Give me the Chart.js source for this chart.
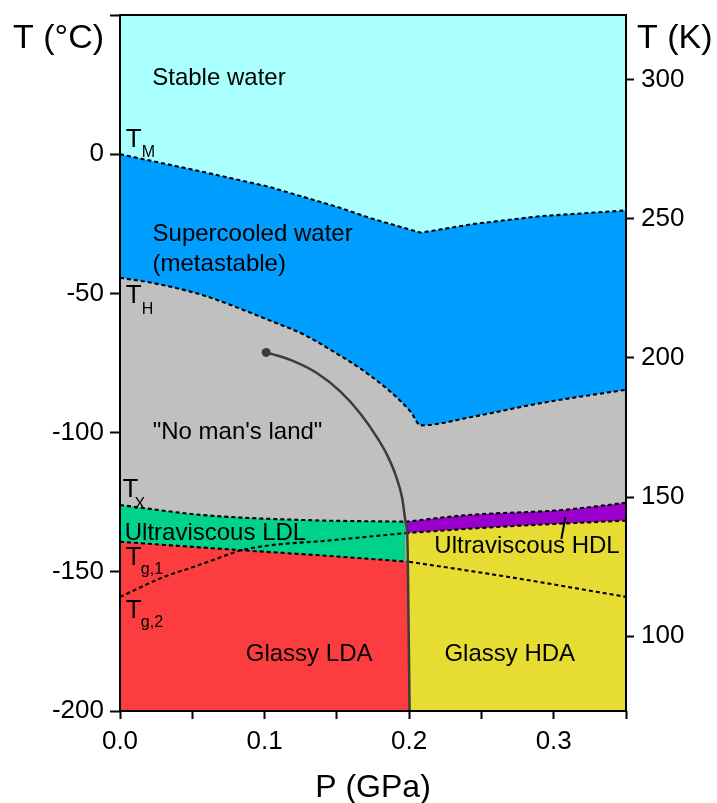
<!DOCTYPE html>
<html>
<head>
<meta charset="utf-8">
<script src="https://cdn.jsdelivr.net/npm/chart.js@4.4.1/dist/chart.umd.min.js"></script>
<style>
  html, body { margin: 0; padding: 0; background: #fff; }
</style>
</head>
<body>
<canvas id="phase" width="717" height="803"></canvas>
<script>
// phase boundaries: P in GPa, T in degC
var tmP = [0, 0.057, 0.103, 0.150, 0.174, 0.208, 0.244, 0.290, 0.350];
var tmT = [0, -6.3, -11.7, -18.9, -23.1, -28.2, -25.1, -22.3, -20.2];

var thP = [0, 0.024, 0.057, 0.103, 0.128, 0.146, 0.166, 0.187, 0.201, 0.208, 0.244, 0.290, 0.350];
var thT = [-44.4, -46.4, -50.6, -59.6, -65, -70.4, -76.9, -85.3, -92.5, -97.4, -94.3, -89.5, -84.6];

var txLowP = [0, 0.057, 0.127, 0.1975];
var txLowT = [-126, -129.6, -131.4, -132];
var txHighP = [0.1975, 0.241, 0.306, 0.350];
var txHighT = [-132, -129.6, -127.8, -125.2];

var tg1LowP = [0, 0.080, 0.150, 0.200];
var tg1LowT = [-139.2, -142.1, -144.5, -146.4];
var tg1HighP = [0.200, 0.267, 0.350];
var tg1HighT = [-146.4, -151.7, -159];

var tg2LowP = [0, 0.031, 0.050, 0.068, 0.085, 0.150, 0.1975];
var tg2LowT = [-159, -151.7, -148.4, -145.1, -142.1, -138.5, -136.1];
var tg2HighP = [0.1975, 0.264, 0.350];
var tg2HighT = [-136.1, -133.8, -131.6];

// LL line from the critical point down to P = 0.2 GPa
var llP = [0.1011, 0.1053, 0.1179, 0.1364, 0.1525, 0.1663, 0.1779, 0.1848, 0.1906, 0.1952, 0.1975, 0.1987, 0.1991, 0.2003];
var llT = [-71.2, -71.8, -73.9, -78.7, -85.3, -93.2, -101.8, -108.1, -115.2, -123.6, -132, -136.8, -146.9, -200];

var leaderP = [0.3053, 0.3081];
var leaderT = [-138.2, -130.3];

var xTicks = [0, 0.05, 0.1, 0.15, 0.2, 0.25, 0.3, 0.35];
var xTickLabels = ['0.0', '', '0.1', '', '0.2', '', '0.3', ''];
var cTicks = [-200, -150, -100, -50, 0, 50];
var cTickLabels = ['-200', '-150', '-100', '-50', '0', ''];
var kTicks = [100, 150, 200, 250, 300];

var regionText = [
  ['Stable water', 0.0223, 25.0],
  ['Supercooled water', 0.0225, -31.2],
  ['(metastable)', 0.0225, -41.9],
  ['"No man\'s land"', 0.0226, -102.3],
  ['Ultraviscous LDL', 0.0033, -138.5],
  ['Ultraviscous HDL', 0.2174, -143.3],
  ['Glassy LDA', 0.087, -182.2],
  ['Glassy HDA', 0.2244, -182.2]
];
// [main, subscript, P, T, sub dx, sub dy]
var tempText = [
  ['T', 'M', 0.004, 2.6, 16, 10],
  ['T', 'H', 0.004, -53.6, 16, 11],
  ['T', 'X', 0.0017, -123.3, 12, 12],
  ['T', 'g,1', 0.004, -147.5, 15, 9],
  ['T', 'g,2', 0.004, -166.7, 15, 9]
];

var FONT = '"Liberation Sans", Arial, sans-serif';
Chart.defaults.font.family = FONT;
Chart.defaults.color = '#000';

function pts(ps, ts) {
  return ps.map(function (p, i) { return { x: p, y: ts[i] }; });
}

function boundary(ps, ts, fillColor, order, smooth) {
  return {
    data: pts(ps, ts),
    showLine: true,
    pointRadius: 0,
    borderColor: '#000',
    borderWidth: 2.1,
    borderDash: [4, 3],
    cubicInterpolationMode: smooth ? 'monotone' : 'default',
    tension: smooth ? 0.4 : 0,
    backgroundColor: fillColor || 'transparent',
    fill: fillColor ? 'start' : false,
    order: order
  };
}

var bgPlugin = {
  id: 'areaBg',
  beforeDraw: function (chart) {
    var a = chart.chartArea, ctx = chart.ctx;
    ctx.save();
    ctx.fillStyle = '#AAFFFF';
    ctx.fillRect(a.left, a.top, a.right - a.left, a.bottom - a.top);
    ctx.restore();
  }
};

var framePlugin = {
  id: 'frame',
  afterDatasetsDraw: function (chart) {
    var a = chart.chartArea, ctx = chart.ctx;
    ctx.save();
    ctx.strokeStyle = '#000';
    ctx.lineWidth = 2;
    ctx.strokeRect(a.left, a.top, a.right - a.left, a.bottom - a.top);
    ctx.restore();
  }
};

var textPlugin = {
  id: 'phaseText',
  afterDraw: function (chart) {
    var ctx = chart.ctx, xs = chart.scales.x, ys = chart.scales.y, a = chart.chartArea;
    ctx.save();
    ctx.fillStyle = '#000';
    ctx.textBaseline = 'alphabetic';
    ctx.textAlign = 'left';
    ctx.font = '24px ' + FONT;
    regionText.forEach(function (t) {
      ctx.fillText(t[0], xs.getPixelForValue(t[1]), ys.getPixelForValue(t[2]));
    });
    tempText.forEach(function (t) {
      var px = xs.getPixelForValue(t[2]), py = ys.getPixelForValue(t[3]);
      ctx.font = '26px ' + FONT;
      ctx.fillText(t[0], px, py);
      ctx.font = '16px ' + FONT;
      ctx.fillText(t[1], px + t[4], py + t[5]);
    });
    ctx.font = '34px ' + FONT;
    ctx.fillText('T (\u00B0C)', 13, 48);
    ctx.fillText('T (K)', 637, 48);
    ctx.font = '32px ' + FONT;
    ctx.textAlign = 'center';
    ctx.fillText('P (GPa)', (a.left + a.right) / 2, 797);
    ctx.restore();
  }
};

var tickGrid = function (len) {
  return { drawOnChartArea: false, tickLength: len, tickWidth: 2, tickColor: '#000' };
};

// keep the plot box fixed: drop the label overflow padding on the vertical axes
function fixVertical(w) {
  return function (s) {
    s.width = w;
    s.paddingTop = 0;
    s.paddingBottom = 0;
  };
}

new Chart(document.getElementById('phase'), {
  type: 'scatter',
  data: {
    datasets: [
      boundary(tmP, tmT, '#009FFF', 10, false),
      boundary(thP, thT, '#C0C0C0', 9, true),
      boundary(txLowP, txLowT, '#00D28C', 8, true),
      boundary(txHighP, txHighT, '#9900CC', 8, true),
      boundary(tg1LowP, tg1LowT, '#FC3D3F', 7, true),
      boundary(tg2HighP, tg2HighT, '#E6DC32', 7, true),
      boundary(tg1HighP, tg1HighT, null, 3, true),
      boundary(tg2LowP, tg2LowT, null, 3, true),
      {
        data: pts(llP, llT),
        showLine: true,
        pointRadius: 0,
        borderColor: '#3C3C3C',
        borderWidth: 2.5,
        cubicInterpolationMode: 'monotone',
        fill: false,
        order: 2
      },
      {
        data: pts([llP[0]], [llT[0]]),
        pointRadius: 4.5,
        pointBackgroundColor: '#3C3C3C',
        pointBorderWidth: 0,
        order: 1
      },
      {
        data: pts(leaderP, leaderT),
        showLine: true,
        pointRadius: 0,
        borderColor: '#000',
        borderWidth: 2,
        fill: false,
        order: 1
      }
    ]
  },
  options: {
    responsive: false,
    animation: false,
    layout: { padding: { top: 15, left: 0, right: 0, bottom: 0 } },
    plugins: {
      legend: { display: false },
      tooltip: { enabled: false },
      filler: { drawTime: 'beforeDatasetsDraw' }
    },
    scales: {
      x: {
        type: 'linear',
        position: 'bottom',
        min: 0,
        max: 0.35,
        afterBuildTicks: function (s) { s.ticks = xTicks.map(function (v) { return { value: v }; }); },
        afterFit: function (s) { s.height = 92; s.paddingLeft = 0; s.paddingRight = 0; },
        ticks: {
          autoSkip: false,
          maxRotation: 0,
          padding: 7,
          font: { size: 26 },
          callback: function (v, i) { return xTickLabels[i]; }
        },
        grid: tickGrid(8),
        border: { display: false }
      },
      y: {
        type: 'linear',
        position: 'left',
        min: -200,
        max: 50,
        afterBuildTicks: function (s) { s.ticks = cTicks.map(function (v) { return { value: v }; }); },
        afterFit: fixVertical(120),
        ticks: {
          padding: 6,
          font: { size: 26 },
          callback: function (v, i) { return cTickLabels[i]; }
        },
        grid: tickGrid(10),
        border: { display: false }
      },
      y2: {
        type: 'linear',
        position: 'right',
        min: 73.15,
        max: 323.15,
        afterBuildTicks: function (s) { s.ticks = kTicks.map(function (v) { return { value: v }; }); },
        afterFit: fixVertical(91),
        ticks: {
          padding: 7,
          font: { size: 26 },
          callback: function (v) { return String(v); }
        },
        grid: tickGrid(8),
        border: { display: false }
      }
    }
  },
  plugins: [bgPlugin, framePlugin, textPlugin]
});
</script>
</body>
</html>
